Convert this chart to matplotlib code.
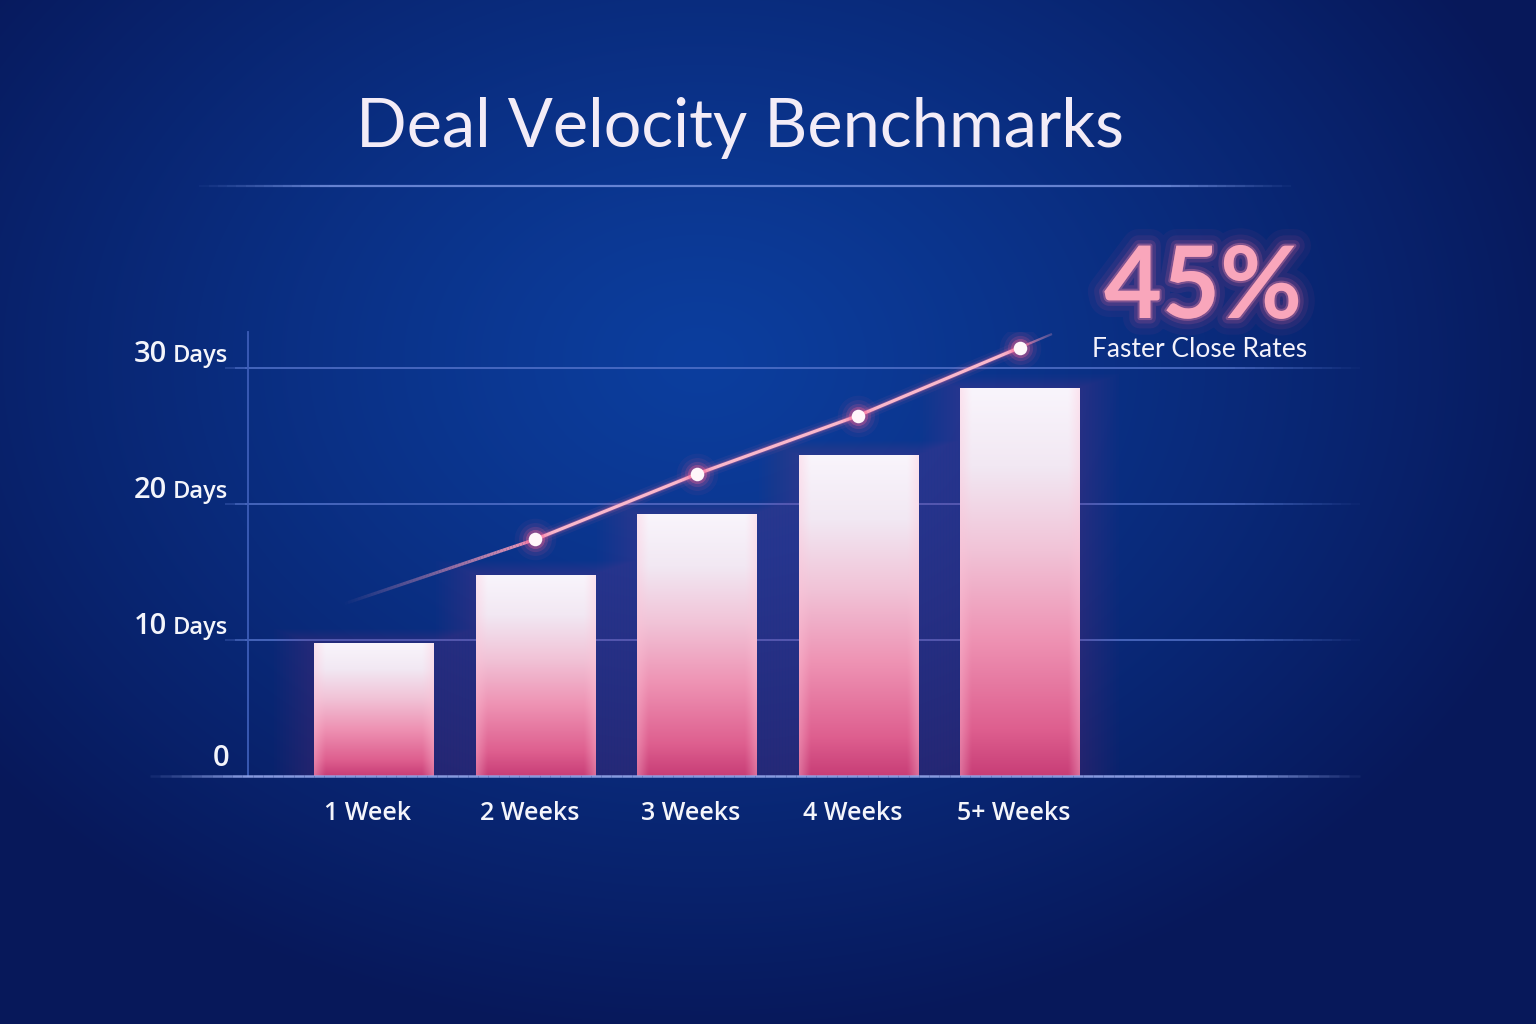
import numpy as np
import matplotlib
matplotlib.use("Agg")
import matplotlib.pyplot as plt
import matplotlib.patheffects as pe
from matplotlib.collections import LineCollection
from matplotlib.colors import LinearSegmentedColormap, to_rgb

#------------------------------------------------------
# Data
categories = ["1 Week", "2 Weeks", "3 Weeks", "4 Weeks", "5+ Weeks"]
bar_days = [9.8, 14.8, 19.3, 23.6, 28.5]

# trend line: faded start, four marked points, faded tail
trend_x = [-0.2, 1, 2, 3, 4, 4.2]
trend_days = [12.6, 17.4, 22.2, 26.5, 31.5, 32.5]

ytick_vals = [0, 10, 20, 30]
ytick_nums = ["0", "10", "20", "30"]

title = "Deal Velocity Benchmarks"
big_stat = "45%"
stat_caption = "Faster Close Rates"

#------------------------------------------------------
W, H = 1536, 1024
fig = plt.figure(figsize=(W / 100, H / 100), dpi=100)

# background: radial navy gradient
bg = fig.add_axes([0, 0, 1, 1])
bg.set_xlim(0, W)
bg.set_ylim(H, 0)
bg.axis("off")
yy, xx = np.mgrid[0:H, 0:W]
d = np.sqrt(((xx - 700) / 900.0) ** 2 + ((yy - 360) / 680.0) ** 2)
t = np.clip(d, 0, 1) ** 1.2
c_in = np.array(to_rgb("#0c3e9e"))
c_out = np.array(to_rgb("#07185a"))
img = c_in[None, None, :] * (1 - t[..., None]) + c_out[None, None, :] * t[..., None]
bg.imshow(img, extent=[0, W, H, 0], aspect="auto", zorder=0)


def fade_line(ax, x0, x1, y, color, lw, fade_in=0.15, fade_out=0.15, alpha=1.0, n=120, **kw):
    xs = np.linspace(x0, x1, n + 1)
    segs = [[(xs[i], y), (xs[i + 1], y)] for i in range(n)]
    u = np.linspace(0, 1, n)
    a = np.ones(n)
    if fade_in > 0:
        a = np.minimum(a, np.clip(u / fade_in, 0, 1))
    if fade_out > 0:
        a = np.minimum(a, np.clip((1 - u) / fade_out, 0, 1))
    rgb = to_rgb(color)
    cols = [(rgb[0], rgb[1], rgb[2], alpha * v) for v in a]
    lc = LineCollection(segs, colors=cols, linewidths=lw, capstyle="butt", **kw)
    ax.add_collection(lc)
    return lc


# title + divider
bg.text(740, 147, title, ha="center", va="baseline", fontsize=48,
        family="Lato", color="#f3ecf7")
fade_line(bg, 190, 1300, 186, "#7d98e6", 1.6, fade_in=0.12, fade_out=0.12, alpha=0.8, zorder=2)

# big stat
glow = [pe.Stroke(linewidth=24, foreground="#ff4f86", alpha=0.05),
        pe.Stroke(linewidth=15, foreground="#ff5a8e", alpha=0.08),
        pe.Stroke(linewidth=8, foreground="#ff6d9a", alpha=0.14),
        pe.Stroke(linewidth=3, foreground="#ff8fb0", alpha=0.3),
        pe.Normal()]
bg.text(1203, 318, big_stat, ha="center", va="baseline", fontsize=72,
        family="Lato", weight="bold", color="#f9a6bb", path_effects=glow)
bg.text(1200, 357, stat_caption, ha="center", va="baseline", fontsize=19,
        family="Lato", color="#f4f2fb")

#------------------------------------------------------
# main chart axes
px_per_day = 13.6
ax = fig.add_axes([248 / W, (H - 776) / H, (1370 - 248) / W, (776 - 332) / H])
ax.patch.set_alpha(0)
xmin, xmax = -0.78, 6.17
ymax = (776 - 332) / px_per_day
ax.set_xlim(xmin, xmax)
ax.set_ylim(0, ymax)
for s in ["top", "right", "bottom"]:
    ax.spines[s].set_visible(False)
ax.spines["left"].set_color("#3d5db8")
ax.spines["left"].set_linewidth(1.3)
ax.set_xticks([])
ax.set_yticks([])

# grid lines and baseline
for v in ytick_vals[1:]:
    fade_line(ax, -0.98, 6.17, v, "#5877cf", 1.4, fade_in=0.02, fade_out=0.12,
              alpha=0.75, zorder=1, clip_on=False)
fade_line(ax, -1.45, 6.17, 0, "#93a6ea", 1.8, fade_in=0.08, fade_out=0.1,
          alpha=0.9, zorder=6, clip_on=False)

# bars: soft glow + gradient fill
bar_w = 0.74
x_pos = np.arange(len(categories))
ppx = 1122 / (xmax - xmin)
for pad in np.arange(40, 2, -3):
    ax.bar(x_pos, np.array(bar_days) + pad / px_per_day * 0.35,
           width=bar_w + 2 * pad / ppx, color="#f0508e", alpha=0.013,
           linewidth=0, zorder=2)

vcmap = LinearSegmentedColormap.from_list(
    "barv", [(0.0, "#f9f5fc"), (0.2, "#f2e8f3"), (0.42, "#f1c3d7"),
             (0.65, "#ee92b3"), (0.88, "#de5f8f"), (1.0, "#c83e77")])
bars = ax.bar(x_pos, bar_days, width=bar_w, color="none", linewidth=0, zorder=4)
for b in bars:
    x0, w, h = b.get_x(), b.get_width(), b.get_height()
    tv = np.linspace(0, 1, 256)[:, None]
    col = vcmap(tv)[..., :3] * np.ones((1, 64, 1))
    u = np.linspace(0, 1, 64)
    edge = np.clip(1 - np.minimum(u, 1 - u) / 0.09, 0, 1)[None, :, None]
    col = col * (1 - 0.35 * edge) + np.array(to_rgb("#ffc4d8")) * 0.35 * edge
    im = ax.imshow(col, extent=[x0, x0 + w, 0, h], aspect="auto", zorder=4,
                   origin="upper", interpolation="bilinear")
    im.set_clip_path(b)

# trend line
tx, ty = np.array(trend_x), np.array(trend_days)
for lw, a in [(10, 0.06), (6, 0.12), (3.5, 0.25)]:
    ax.plot(tx[1:5], ty[1:5], color="#ff6f9e", lw=lw, alpha=a, zorder=5,
            solid_capstyle="round")
ax.plot(tx[1:5], ty[1:5], color="#f9b8cc", lw=2.3, zorder=5)


def fade_seg(p0, p1, a0, a1, lw, n=60):
    xs = np.linspace(p0[0], p1[0], n + 1)
    ys = np.linspace(p0[1], p1[1], n + 1)
    segs = [[(xs[i], ys[i]), (xs[i + 1], ys[i + 1])] for i in range(n)]
    al = np.linspace(a0, a1, n)
    rgb = to_rgb("#f29ab8")
    ax.add_collection(LineCollection(segs, colors=[(*rgb, a) for a in al],
                                     linewidths=lw, zorder=5))


fade_seg((tx[0], ty[0]), (tx[1], ty[1]), 0.0, 1.0, 2.3)
fade_seg((tx[4], ty[4]), (tx[5], ty[5]), 1.0, 0.3, 1.6)

# glowing points
px, py = tx[1:5], ty[1:5]
for s, a in [(900, 0.05), (560, 0.09), (330, 0.16), (190, 0.3)]:
    ax.scatter(px, py, s=s, color="#ff5f92", alpha=a, linewidths=0, zorder=6)
ax.scatter(px, py, s=95, color="#fff6fa", linewidths=0, zorder=7)

# category labels
for i, lab in enumerate(categories):
    ax.annotate(lab, xy=(x_pos[i], 0), xytext=(-6, -44), textcoords="offset pixels",
                ha="center", va="baseline", fontsize=18, family="Open Sans",
                weight="semibold", color="#f4f5fb", annotation_clip=False)

# y tick labels: number + smaller "Days"
for v, num in zip(ytick_vals, ytick_nums):
    if v == 0:
        ax.annotate(num, xy=(0, v), xycoords=("axes fraction", "data"),
                    xytext=(-19, 10), textcoords="offset pixels", ha="right",
                    va="baseline", fontsize=21, family="Open Sans",
                    weight="semibold", color="#f4f5fb", annotation_clip=False)
    else:
        ax.annotate(num, xy=(0, v), xycoords=("axes fraction", "data"),
                    xytext=(-81, 6), textcoords="offset pixels", ha="right",
                    va="baseline", fontsize=21, family="Open Sans",
                    weight="semibold", color="#f4f5fb", annotation_clip=False)
        ax.annotate("Days", xy=(0, v), xycoords=("axes fraction", "data"),
                    xytext=(-75, 6), textcoords="offset pixels", ha="left",
                    va="baseline", fontsize=17, family="Open Sans",
                    weight="semibold", color="#f4f5fb", annotation_clip=False)

fig.savefig("out.png", dpi=100)
